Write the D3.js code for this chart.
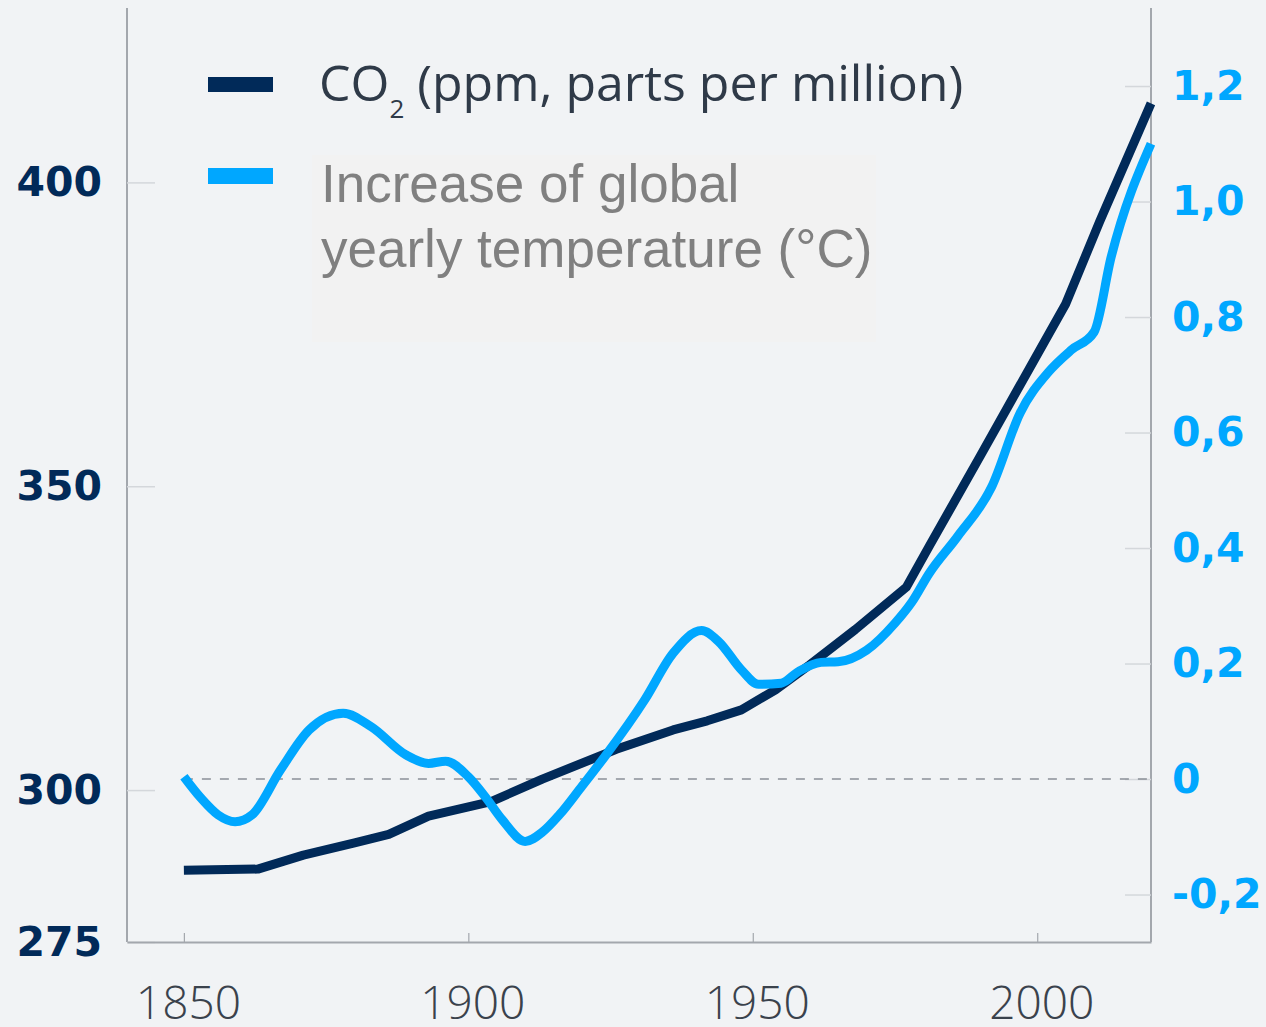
<!DOCTYPE html>
<html>
<head>
<meta charset="utf-8">
<script src="https://cdn.jsdelivr.net/npm/d3@7"></script>
<style>
  html, body { margin: 0; padding: 0; background: #f1f3f5; }
  svg { display: block; }
</style>
</head>
<body>
<svg id="chart" width="1266" height="1027"></svg>
<script>
// Atmospheric CO2 concentration (ppm)
const co2Years  = [1850, 1863, 1871, 1880, 1886, 1893, 1904, 1913, 1926, 1936, 1942, 1948, 1954, 1960, 1968, 1977, 1981, 1990, 1999, 2005, 2011, 2020];
const co2Values = [286.8, 287.0, 289.3, 291.3, 292.7, 295.7, 298.1, 301.8, 306.7, 309.9, 311.4, 313.2, 316.5, 320.6, 326.4, 333.4, 340.1, 355.0, 370.0, 380.0, 393.6, 413.0];

// Global yearly temperature anomaly (°C)
const tempYears  = [1850, 1853, 1856, 1859, 1862, 1867, 1872, 1878, 1883, 1889, 1893, 1896, 1900, 1903, 1906, 1910, 1913, 1916, 1920, 1924, 1931, 1936, 1941, 1944, 1948, 1951, 1955, 1958, 1962, 1965, 1970, 1975, 1978, 1981, 1986, 1992, 1997, 2002, 2006, 2010, 2013, 2020];
const tempValues = [0.004, -0.033, -0.062, -0.074, -0.062, 0.016, 0.085, 0.114, 0.09, 0.042, 0.027, 0.031, 0.004, -0.031, -0.071, -0.108, -0.092, -0.062, -0.012, 0.039, 0.137, 0.218, 0.257, 0.238, 0.189, 0.164, 0.166, 0.186, 0.202, 0.203, 0.223, 0.27, 0.307, 0.356, 0.42, 0.506, 0.634, 0.705, 0.743, 0.774, 0.904, 1.10];

// Axis ticks
const yearTicks = [1850, 1900, 1950, 2000];
const co2Ticks = [275, 300, 350, 400];
const tempTicks = [-0.2, 0, 0.2, 0.4, 0.6, 0.8, 1.0, 1.2];
const tempTickLabels = ["-0,2", "0", "0,2", "0,4", "0,6", "0,8", "1,0", "1,2"];

// Legend entries
const legendCo2 = "CO";
const legendCo2Sub = "2";
const legendCo2Rest = " (ppm, parts per million)";
const legendTempLines = ["Increase of global", "yearly temperature (°C)"];

const NAVY = "#012a59";
const BLUE = "#00a7ff";

const svg = d3.select("#chart");
const plotLeft = 127, plotRight = 1151, plotTop = 8, plotBottom = 942;

const x = d3.scaleLinear().domain([1840, 2020]).range([plotLeft, plotRight]);
const yCo2 = d3.scaleLinear().domain([275, 428.7]).range([plotBottom, plotTop]);
const yTemp = d3.scaleLinear().domain([-0.2822, 1.3351]).range([plotBottom, plotTop]);

// Legend text backdrop
svg.append("rect")
  .attr("x", 312).attr("y", 155).attr("width", 564).attr("height", 187)
  .attr("fill", "#f2f2f2");

// Left axis (CO2)
const gLeft = svg.append("g")
  .attr("transform", `translate(${plotLeft},0)`)
  .call(d3.axisLeft(yCo2).tickValues(co2Ticks).tickSize(-28).tickSizeOuter(0).tickPadding(25).tickFormat(d3.format("d")));
gLeft.select(".domain").attr("stroke", "#a3a7ad").attr("stroke-width", 2).attr("d", `M0,${plotTop}V${plotBottom}`);
gLeft.selectAll(".tick line").attr("stroke", "#d4d7db").attr("stroke-width", 1.5);
gLeft.selectAll(".tick text")
  .attr("fill", NAVY)
  .style("font-family", "'DejaVu Sans', Verdana, sans-serif")
  .style("font-weight", "bold")
  .style("font-size", "41px");

// Right axis (temperature)
const gRight = svg.append("g")
  .attr("transform", `translate(${plotRight},0)`)
  .call(d3.axisRight(yTemp).tickValues(tempTicks).tickSize(-26).tickSizeOuter(0).tickPadding(21)
    .tickFormat((d, i) => tempTickLabels[i]));
gRight.select(".domain").attr("stroke", "#a3a7ad").attr("stroke-width", 2).attr("d", `M0,${plotTop}V${plotBottom}`);
gRight.selectAll(".tick line").attr("stroke", "#d4d7db").attr("stroke-width", 1.5);
gRight.selectAll(".tick text")
  .attr("fill", BLUE)
  .style("font-family", "'DejaVu Sans', Verdana, sans-serif")
  .style("font-weight", "bold")
  .style("font-size", "41px");

// Bottom axis (years)
const gBottom = svg.append("g")
  .attr("transform", `translate(0,${plotBottom})`)
  .call(d3.axisBottom(x).tickValues(yearTicks).tickSize(-9).tickSizeOuter(0).tickPadding(44).tickFormat(d3.format("d")));
gBottom.select(".domain").attr("stroke", "#a3a7ad").attr("stroke-width", 2);
gBottom.selectAll(".tick line").attr("stroke", "#a3a7ad").attr("stroke-width", 1.2);
gBottom.selectAll(".tick text")
  .attr("fill", "#3a424c")
  .attr("dx", 4)
  .style("font-family", "'Open Sans Light', 'Lato Light', 'Open Sans', sans-serif")
  .style("font-weight", "300")
  .style("font-size", "46px");

// Zero reference for temperature
svg.append("line")
  .attr("x1", x(1850)).attr("x2", plotRight)
  .attr("y1", yTemp(0)).attr("y2", yTemp(0))
  .attr("stroke", "#8b9098").attr("stroke-width", 1.5)
  .attr("stroke-dasharray", "9,9");

// Series lines
const co2Line = d3.line()
  .x((d, i) => x(co2Years[i]))
  .y(d => yCo2(d))
  .curve(d3.curveLinear);
const tempLine = d3.line()
  .x((d, i) => x(tempYears[i]))
  .y(d => yTemp(d))
  .curve(d3.curveMonotoneX);

svg.append("path")
  .attr("d", co2Line(co2Values))
  .attr("fill", "none").attr("stroke", NAVY).attr("stroke-width", 9)
  .attr("stroke-linejoin", "round");

svg.append("path")
  .attr("d", tempLine(tempValues))
  .attr("fill", "none").attr("stroke", BLUE).attr("stroke-width", 9)
  .attr("stroke-linejoin", "round");

// Legend
svg.append("rect").attr("x", 208).attr("y", 77).attr("width", 65).attr("height", 15).attr("fill", NAVY);
svg.append("rect").attr("x", 208).attr("y", 168).attr("width", 65).attr("height", 16).attr("fill", BLUE);

const t1 = svg.append("text")
  .attr("x", 319).attr("y", 101)
  .attr("fill", "#2f3a48")
  .style("font-family", "'Open Sans', sans-serif")
  .style("font-size", "50px");
t1.append("tspan").text(legendCo2);
t1.append("tspan").attr("dy", 17).style("font-size", "26px").text(legendCo2Sub);
t1.append("tspan").attr("dy", -17).text(legendCo2Rest);

svg.append("g").selectAll("text")
  .data(legendTempLines)
  .join("text")
  .attr("x", 321)
  .attr("y", (d, i) => 202 + i * 64.5)
  .attr("fill", "#808080")
  .style("font-family", "'Liberation Sans', Arial, sans-serif")
  .style("font-size", "53px")
  .text(d => d);
</script>
</body>
</html>
